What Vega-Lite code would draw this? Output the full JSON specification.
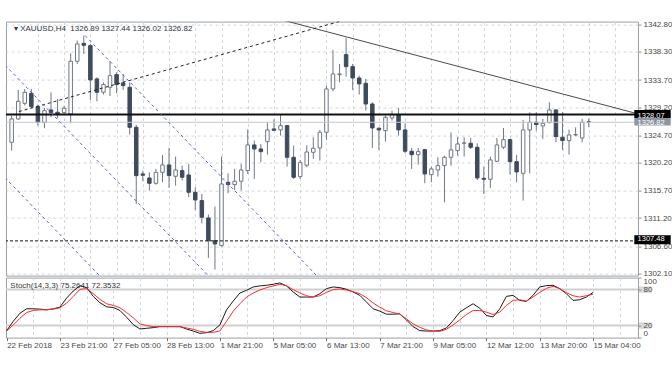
{
 "$schema": "https://vega.github.io/schema/vega-lite/v6.json",
 "background": "white",
 "padding": {"left": 4, "top": 19.6, "right": 0, "bottom": 0},
 "bounds": "flush",
 "spacing": 2,
 "config": {
  "view": {"stroke": "#9aa0a6", "strokeWidth": 1},
  "font": "Liberation Sans",
  "axis": {"labelFont": "Liberation Sans", "labelFontSize": 8, "labelColor": "#4a4a4a", "tickColor": "#8a9096", "labelOverlap": false}
 },
 "datasets": {
  "one": [{}],
  "candles": [
   {"i":0,"o":1323.56,"h":1327.90,"l":1322.20,"c":1327.36},
   {"i":1,"o":1327.36,"h":1332.09,"l":1327.20,"c":1330.24},
   {"i":2,"o":1329.91,"h":1332.25,"l":1329.53,"c":1331.71},
   {"i":3,"o":1331.54,"h":1332.25,"l":1329.15,"c":1329.37},
   {"i":4,"o":1329.37,"h":1329.70,"l":1326.27,"c":1326.82},
   {"i":5,"o":1326.82,"h":1329.15,"l":1325.84,"c":1328.72},
   {"i":6,"o":1328.83,"h":1331.71,"l":1327.63,"c":1328.39},
   {"i":7,"o":1328.45,"h":1330.62,"l":1327.52,"c":1328.17},
   {"i":8,"o":1328.39,"h":1329.53,"l":1328.17,"c":1329.10},
   {"i":9,"o":1328.17,"h":1338.06,"l":1326.65,"c":1336.76},
   {"i":10,"o":1336.76,"h":1340.13,"l":1336.33,"c":1339.59},
   {"i":11,"o":1339.69,"h":1340.94,"l":1337.96,"c":1339.37},
   {"i":12,"o":1339.31,"h":1339.59,"l":1330.46,"c":1333.72},
   {"i":13,"o":1333.88,"h":1334.15,"l":1330.24,"c":1331.71},
   {"i":14,"o":1331.71,"h":1333.34,"l":1331.33,"c":1332.96},
   {"i":15,"o":1332.52,"h":1336.76,"l":1331.11,"c":1334.42},
   {"i":16,"o":1334.59,"h":1334.97,"l":1331.54,"c":1332.96},
   {"i":17,"o":1333.23,"h":1334.70,"l":1332.09,"c":1332.79},
   {"i":18,"o":1332.52,"h":1333.34,"l":1324.81,"c":1326.00},
   {"i":19,"o":1326.00,"h":1326.38,"l":1313.50,"c":1318.12},
   {"i":20,"o":1318.39,"h":1318.94,"l":1317.20,"c":1318.18},
   {"i":21,"o":1317.74,"h":1318.66,"l":1315.68,"c":1316.87},
   {"i":22,"o":1316.87,"h":1319.21,"l":1316.65,"c":1318.66},
   {"i":23,"o":1318.66,"h":1321.49,"l":1317.03,"c":1319.86},
   {"i":24,"o":1319.86,"h":1322.63,"l":1316.11,"c":1318.12},
   {"i":25,"o":1318.01,"h":1321.22,"l":1316.49,"c":1319.04},
   {"i":26,"o":1318.94,"h":1319.75,"l":1317.31,"c":1317.85},
   {"i":27,"o":1318.23,"h":1320.02,"l":1314.59,"c":1315.40},
   {"i":28,"o":1315.40,"h":1316.22,"l":1312.52,"c":1314.15},
   {"i":29,"o":1314.05,"h":1315.13,"l":1310.35,"c":1311.33},
   {"i":30,"o":1311.22,"h":1311.76,"l":1304.70,"c":1307.52},
   {"i":31,"o":1307.52,"h":1313.07,"l":1302.80,"c":1306.98},
   {"i":32,"o":1306.71,"h":1321.22,"l":1306.55,"c":1316.76},
   {"i":33,"o":1317.03,"h":1318.50,"l":1315.24,"c":1316.65},
   {"i":34,"o":1316.65,"h":1319.21,"l":1315.78,"c":1317.20},
   {"i":35,"o":1317.20,"h":1320.02,"l":1315.68,"c":1319.04},
   {"i":36,"o":1318.94,"h":1325.67,"l":1318.39,"c":1323.12},
   {"i":37,"o":1323.12,"h":1323.83,"l":1317.58,"c":1322.47},
   {"i":38,"o":1322.47,"h":1323.28,"l":1320.30,"c":1322.03},
   {"i":39,"o":1323.66,"h":1326.76,"l":1321.54,"c":1325.57},
   {"i":40,"o":1325.73,"h":1327.31,"l":1325.46,"c":1325.51},
   {"i":41,"o":1325.57,"h":1328.01,"l":1324.64,"c":1326.27},
   {"i":42,"o":1326.27,"h":1326.38,"l":1319.59,"c":1321.11},
   {"i":43,"o":1321.11,"h":1323.01,"l":1317.58,"c":1317.85},
   {"i":44,"o":1317.96,"h":1320.68,"l":1317.58,"c":1320.24},
   {"i":45,"o":1319.81,"h":1323.07,"l":1319.48,"c":1321.98},
   {"i":46,"o":1321.92,"h":1324.37,"l":1320.84,"c":1322.58},
   {"i":47,"o":1322.63,"h":1325.57,"l":1320.57,"c":1325.19},
   {"i":48,"o":1325.19,"h":1332.79,"l":1323.94,"c":1332.25},
   {"i":49,"o":1332.25,"h":1338.61,"l":1331.87,"c":1334.70},
   {"i":50,"o":1334.59,"h":1336.33,"l":1333.34,"c":1334.70},
   {"i":51,"o":1337.85,"h":1340.56,"l":1334.26,"c":1335.89},
   {"i":52,"o":1335.89,"h":1336.33,"l":1332.09,"c":1334.04},
   {"i":53,"o":1334.04,"h":1334.42,"l":1331.33,"c":1333.07},
   {"i":54,"o":1333.17,"h":1333.88,"l":1328.72,"c":1329.80},
   {"i":55,"o":1329.80,"h":1330.08,"l":1322.63,"c":1325.89},
   {"i":56,"o":1325.84,"h":1326.00,"l":1322.31,"c":1325.57},
   {"i":57,"o":1325.46,"h":1327.90,"l":1323.66,"c":1327.63},
   {"i":58,"o":1327.52,"h":1328.72,"l":1327.09,"c":1328.07},
   {"i":59,"o":1328.07,"h":1329.15,"l":1324.64,"c":1325.57},
   {"i":60,"o":1325.57,"h":1326.65,"l":1321.76,"c":1322.09},
   {"i":61,"o":1322.09,"h":1322.63,"l":1319.21,"c":1321.54},
   {"i":62,"o":1321.54,"h":1322.63,"l":1319.91,"c":1322.03},
   {"i":63,"o":1322.36,"h":1322.47,"l":1316.87,"c":1318.39},
   {"i":64,"o":1318.28,"h":1319.59,"l":1317.03,"c":1319.21},
   {"i":65,"o":1319.04,"h":1321.11,"l":1317.96,"c":1319.75},
   {"i":66,"o":1319.75,"h":1321.38,"l":1313.77,"c":1321.11},
   {"i":67,"o":1321.11,"h":1325.19,"l":1319.75,"c":1322.31},
   {"i":68,"o":1322.20,"h":1324.37,"l":1321.38,"c":1323.28},
   {"i":69,"o":1323.39,"h":1324.37,"l":1321.22,"c":1323.45},
   {"i":70,"o":1323.39,"h":1324.26,"l":1322.47,"c":1322.74},
   {"i":71,"o":1322.74,"h":1323.39,"l":1317.41,"c":1317.74},
   {"i":72,"o":1317.69,"h":1319.59,"l":1315.13,"c":1317.52},
   {"i":73,"o":1317.52,"h":1321.22,"l":1316.11,"c":1320.68},
   {"i":74,"o":1320.46,"h":1324.26,"l":1320.30,"c":1323.12},
   {"i":75,"o":1322.74,"h":1325.89,"l":1322.47,"c":1323.99},
   {"i":76,"o":1323.99,"h":1324.10,"l":1318.28,"c":1320.40},
   {"i":77,"o":1320.40,"h":1321.49,"l":1317.03,"c":1318.72},
   {"i":78,"o":1318.50,"h":1327.20,"l":1314.05,"c":1325.57},
   {"i":79,"o":1325.57,"h":1328.45,"l":1318.50,"c":1326.82},
   {"i":80,"o":1326.82,"h":1328.45,"l":1325.46,"c":1326.44},
   {"i":81,"o":1326.22,"h":1327.36,"l":1324.10,"c":1326.65},
   {"i":82,"o":1326.76,"h":1330.08,"l":1326.65,"c":1328.83},
   {"i":83,"o":1328.83,"h":1328.94,"l":1323.56,"c":1324.48},
   {"i":84,"o":1324.37,"h":1328.45,"l":1322.31,"c":1323.83},
   {"i":85,"o":1323.83,"h":1325.62,"l":1321.54,"c":1324.75},
   {"i":86,"o":1324.75,"h":1326.00,"l":1324.53,"c":1324.81},
   {"i":87,"o":1324.26,"h":1327.36,"l":1323.56,"c":1326.82},
   {"i":88,"o":1326.89,"h":1327.44,"l":1326.02,"c":1326.82}
  ],
  "stoch": [
   {"i":0,"k":11.6,"d":10.9},{"i":1,"k":27.3,"d":21.1},{"i":2,"k":40.7,"d":32.3},{"i":3,"k":48.0,"d":41.8},
   {"i":4,"k":48.0,"d":45.2},{"i":5,"k":47.4,"d":46.3},{"i":6,"k":46.3,"d":46.3},{"i":7,"k":48.0,"d":47.4},
   {"i":8,"k":50.8,"d":49.7},{"i":9,"k":65.9,"d":57.5},{"i":10,"k":77.7,"d":68.7},{"i":11,"k":86.6,"d":80.5},
   {"i":12,"k":83.3,"d":81.6},{"i":13,"k":68.7,"d":73.2},{"i":14,"k":58.1,"d":63.7},{"i":15,"k":51.3,"d":56.4},
   {"i":16,"k":50.2,"d":53.6},{"i":17,"k":45.2,"d":49.7},{"i":18,"k":34.0,"d":41.8},{"i":19,"k":21.6,"d":32.9},
   {"i":20,"k":14.4,"d":22.8},{"i":21,"k":15.5,"d":20.0},{"i":22,"k":16.6,"d":18.3},{"i":23,"k":18.3,"d":18.3},
   {"i":24,"k":18.3,"d":18.3},{"i":25,"k":18.3,"d":18.3},{"i":26,"k":18.3,"d":18.3},{"i":27,"k":14.4,"d":16.0},
   {"i":28,"k":10.9,"d":13.8},{"i":29,"k":7.1,"d":10.4},{"i":30,"k":8.2,"d":8.8},{"i":31,"k":11.6,"d":8.8},
   {"i":32,"k":21.1,"d":11.0},{"i":33,"k":46.3,"d":27.3},{"i":34,"k":60.9,"d":44.1},{"i":35,"k":74.3,"d":56.4},
   {"i":36,"k":78.8,"d":67.6},{"i":37,"k":84.4,"d":74.3},{"i":38,"k":86.1,"d":79.3},{"i":39,"k":87.2,"d":83.3},
   {"i":40,"k":88.9,"d":86.1},{"i":41,"k":91.1,"d":88.9},{"i":42,"k":86.1,"d":86.6},{"i":43,"k":76.0,"d":79.9},
   {"i":44,"k":67.6,"d":74.3},{"i":45,"k":67.6,"d":69.8},{"i":46,"k":67.6,"d":67.6},{"i":47,"k":73.2,"d":69.8},
   {"i":48,"k":81.6,"d":75.4},{"i":49,"k":84.4,"d":79.9},{"i":50,"k":83.3,"d":81.0},{"i":51,"k":80.5,"d":79.3},
   {"i":52,"k":76.0,"d":76.5},{"i":53,"k":70.4,"d":73.2},{"i":54,"k":59.2,"d":66.5},{"i":55,"k":48.0,"d":57.5},
   {"i":56,"k":44.1,"d":50.8},{"i":57,"k":39.0,"d":44.6},{"i":58,"k":39.0,"d":41.8},{"i":59,"k":39.6,"d":39.0},
   {"i":60,"k":29.5,"d":31.2},{"i":61,"k":18.3,"d":22.8},{"i":62,"k":11.6,"d":17.2},{"i":63,"k":10.9,"d":12.7},
   {"i":64,"k":10.9,"d":11.0},{"i":65,"k":11.6,"d":10.4},{"i":66,"k":16.0,"d":13.8},{"i":67,"k":28.4,"d":21.1},
   {"i":68,"k":42.4,"d":29.5},{"i":69,"k":49.7,"d":38.5},{"i":70,"k":56.4,"d":45.2},{"i":71,"k":49.1,"d":45.2},
   {"i":72,"k":36.8,"d":42.4},{"i":73,"k":34.5,"d":38.5},{"i":74,"k":48.0,"d":42.4},{"i":75,"k":68.7,"d":53.6},
   {"i":76,"k":70.4,"d":62.0},{"i":77,"k":62.0,"d":63.1},{"i":78,"k":60.3,"d":60.9},{"i":79,"k":70.4,"d":67.6},
   {"i":80,"k":84.4,"d":75.4},{"i":81,"k":86.6,"d":82.1},{"i":82,"k":87.2,"d":85.5},{"i":83,"k":81.6,"d":81.6},
   {"i":84,"k":73.2,"d":74.9},{"i":85,"k":62.0,"d":69.8},{"i":86,"k":63.1,"d":67.6},{"i":87,"k":67.6,"d":69.8},
   {"i":88,"k":75.26,"d":72.35}
  ],
  "lines": [
   {"g":"down","i":40,"p":1343.86},{"g":"down","i":95,"p":1328.33},
   {"g":"rise","i":1.1,"p":1328.56},{"g":"rise","i":51,"p":1343.56},
   {"g":"ch1","i":11.19,"p":1340.95},{"g":"ch1","i":49,"p":1299.06},
   {"g":"ch2","i":-1,"p":1336.13},{"g":"ch2","i":33,"p":1298.46},
   {"g":"ch3","i":-1,"p":1317.77},{"g":"ch3","i":16,"p":1298.93}
  ]
 },
 "vconcat": [
  {
   "width": 632,
   "height": 254,
   "layer": [
    {
     "data": {"name": "candles"},
     "mark": {"type": "rule", "color": "#6e7782", "strokeWidth": 1},
     "encoding": {
      "x": {"field": "i", "type": "quantitative",
            "scale": {"domain": [-0.1, 94.75], "nice": false, "zero": false},
            "axis": {"values": [4,8,12,16,20,24,28,32,36,40,44,48,52,56,60,64,68,72,76,80,84,88,92],
                     "tickCount": 40,
                     "labels": false, "ticks": false, "domain": false, "title": null,
                     "grid": true, "gridColor": "#d3d7db", "gridDash": [3,3]}},
      "y": {"field": "l", "type": "quantitative",
            "scale": {"domain": [1301.82, 1343.23], "nice": false, "zero": false},
            "axis": {"orient": "right", "title": null, "domain": false,
                     "values": [1302.1,1306.6,1311.2,1315.7,1320.2,1324.7,1329.2,1333.7,1338.3,1342.8],
                     "tickCount": 20,
                     "format": ".2f", "tickSize": 3, "labelPadding": 2, "labelOverlap": false,
                     "grid": true, "gridColor": "#d3d7db", "gridDash": [3,3]}},
      "y2": {"field": "h"}
     }
    },
    {
     "data": {"name": "candles"},
     "mark": {"type": "bar", "size": 3.5, "strokeWidth": 1},
     "encoding": {
      "x": {"field": "i", "type": "quantitative"},
      "y": {"field": "o", "type": "quantitative"},
      "y2": {"field": "c"},
      "fill": {"condition": {"test": "datum.c >= datum.o", "value": "#ffffff"}, "value": "#3e4b5e"},
      "stroke": {"condition": {"test": "datum.c >= datum.o", "value": "#6e7782"}, "value": "#3e4b5e"}
     }
    },
    {
     "data": {"name": "one"},
     "mark": {"type": "rule", "color": "#c4c8cc", "strokeWidth": 1},
     "encoding": {"y": {"datum": 1326.82}}
    },
    {
     "data": {"name": "one"},
     "mark": {"type": "rule", "color": "#111111", "strokeWidth": 2},
     "encoding": {"y": {"datum": 1328.07}}
    },
    {
     "data": {"name": "one"},
     "mark": {"type": "rule", "color": "#111111", "strokeWidth": 1, "strokeDash": [3,2]},
     "encoding": {"y": {"datum": 1307.48}}
    },
    {
     "data": {"name": "lines"},
     "transform": [{"filter": "datum.g == 'down'"}],
     "mark": {"type": "line", "clip": true, "color": "#4a4a4a", "strokeWidth": 1},
     "encoding": {"x": {"field": "i", "type": "quantitative"}, "y": {"field": "p", "type": "quantitative"}}
    },
    {
     "data": {"name": "lines"},
     "transform": [{"filter": "datum.g == 'rise'"}],
     "mark": {"type": "line", "clip": true, "color": "#222222", "strokeWidth": 1, "strokeDash": [3,3]},
     "encoding": {"x": {"field": "i", "type": "quantitative"}, "y": {"field": "p", "type": "quantitative"}}
    },
    {
     "data": {"name": "lines"},
     "transform": [{"filter": "indexof(datum.g, 'ch') == 0"}],
     "mark": {"type": "line", "clip": true, "color": "#5c5cd6", "strokeWidth": 1, "strokeDash": [3,3]},
     "encoding": {"x": {"field": "i", "type": "quantitative"}, "y": {"field": "p", "type": "quantitative"}, "detail": {"field": "g"}}
    },
    {
     "data": {"name": "one"},
     "mark": {"type": "text", "align": "left", "baseline": "middle", "fontSize": 8, "color": "#2f3640", "font": "Liberation Sans"},
     "encoding": {"x": {"datum": 0.35}, "y": {"datum": 1342.04},
                  "text": {"value": "▾ XAUUSD,H4\u00a0\u00a01326.89 1327.44 1326.02 1326.82"}}
    },
    {
     "data": {"name": "one"},
     "mark": {"type": "rect", "color": "#000000"},
     "encoding": {"x": {"datum": 94.95}, "x2": {"datum": 100.5}, "y": {"datum": 1327.52}, "y2": {"datum": 1328.8}}
    },
    {
     "data": {"name": "one"},
     "mark": {"type": "rect", "color": "#8c97a3"},
     "encoding": {"x": {"datum": 94.95}, "x2": {"datum": 100.5}, "y": {"datum": 1326.3}, "y2": {"datum": 1327.52}}
    },
    {
     "data": {"name": "one"},
     "mark": {"type": "rect", "color": "#000000"},
     "encoding": {"x": {"datum": 94.95}, "x2": {"datum": 100.5}, "y": {"datum": 1306.95}, "y2": {"datum": 1308.4}}
    },
    {
     "data": {"name": "one"},
     "mark": {"type": "text", "align": "left", "baseline": "middle", "fontSize": 7.5, "color": "#ffffff", "font": "Liberation Sans"},
     "encoding": {"x": {"datum": 95.45}, "y": {"datum": 1327.9}, "text": {"value": "1328.07"}}
    },
    {
     "data": {"name": "one"},
     "mark": {"type": "text", "align": "left", "baseline": "middle", "fontSize": 7.5, "color": "#ffffff", "font": "Liberation Sans"},
     "encoding": {"x": {"datum": 95.45}, "y": {"datum": 1326.74}, "text": {"value": "1326.82"}}
    },
    {
     "data": {"name": "one"},
     "mark": {"type": "text", "align": "left", "baseline": "middle", "fontSize": 7.5, "color": "#ffffff", "font": "Liberation Sans"},
     "encoding": {"x": {"datum": 95.45}, "y": {"datum": 1307.75}, "text": {"value": "1307.48"}}
    }
   ]
  },
  {
   "width": 632,
   "height": 60,
   "layer": [
    {
     "data": {"name": "one"},
     "mark": {"type": "rule", "color": "#d0d0d0", "strokeWidth": 2},
     "encoding": {
      "x": {"datum": -0.1, "type": "quantitative",
            "scale": {"domain": [-0.1, 94.75], "nice": false, "zero": false},
            "axis": {"values": [0,4,8,12,16,20,24,28,32,36,40,44,48,52,56,60,64,68,72,76,80,84,88,92],
                     "tickCount": 40,
                     "labelExpr": "['22 Feb 2018','','23 Feb 21:00','','27 Feb 05:00','','28 Feb 13:00','','1 Mar 21:00','','5 Mar 05:00','','6 Mar 13:00','','7 Mar 21:00','','9 Mar 05:00','','12 Mar 12:00','','13 Mar 20:00','','15 Mar 04:00',''][datum.value / 4]",
                     "labelAlign": "left", "labelBaseline": "top", "labelPadding": 1, "labelOverlap": false,
                     "tickSize": 3, "tickColor": "#707070",
                     "tickOpacity": {"condition": {"test": "datum.value % 8 == 0 && datum.value <= 88", "value": 1}, "value": 0},
                     "domain": false, "title": null,
                     "grid": true, "gridColor": "#d3d7db", "gridDash": [3,3],
                     "gridOpacity": {"condition": {"test": "datum.value == 0", "value": 0}, "value": 1}}},
      "x2": {"datum": 94.75},
      "y": {"datum": 80, "type": "quantitative",
            "scale": {"domain": [0, 100], "nice": false, "zero": false},
            "axis": {"orient": "right", "title": null, "domain": false, "grid": false,
                     "values": [0, 20, 80, 100], "tickCount": 10, "tickSize": 3, "labelPadding": 2, "labelOverlap": false,
                     "labelBaseline": {"condition": [{"test": "datum.value == 100", "value": "top"}, {"test": "datum.value == 0", "value": "bottom"}], "value": "middle"},
                     "zindex": 1}}
     }
    },
    {
     "data": {"name": "one"},
     "mark": {"type": "rule", "color": "#d0d0d0", "strokeWidth": 2},
     "encoding": {"x": {"datum": -0.1}, "x2": {"datum": 94.75}, "y": {"datum": 20}}
    },
    {
     "data": {"name": "one"},
     "mark": {"type": "rect", "color": "#dcdcdc", "stroke": "#b8b8b8", "strokeWidth": 0.5},
     "encoding": {"x": {"datum": 94.95}, "x2": {"datum": 96.7}, "y": {"datum": 75.5}, "y2": {"datum": 84.5}}
    },
    {
     "data": {"name": "one"},
     "mark": {"type": "rect", "color": "#dcdcdc", "stroke": "#b8b8b8", "strokeWidth": 0.5},
     "encoding": {"x": {"datum": 94.95}, "x2": {"datum": 96.7}, "y": {"datum": 15.5}, "y2": {"datum": 24.5}}
    },
    {
     "data": {"name": "one"},
     "mark": {"type": "text", "align": "left", "baseline": "middle", "fontSize": 8, "color": "#3a3a3a", "font": "Liberation Sans"},
     "encoding": {"x": {"datum": 0.55}, "y": {"datum": 86.7}, "text": {"value": "Stoch(14,3,3) 75.2641 72.3532"}}
    },
    {
     "data": {"name": "stoch"},
     "mark": {"type": "line", "color": "#1a1a1a", "strokeWidth": 1},
     "encoding": {"x": {"field": "i", "type": "quantitative"}, "y": {"field": "k", "type": "quantitative"}}
    },
    {
     "data": {"name": "stoch"},
     "mark": {"type": "line", "color": "#ff2a2a", "strokeWidth": 1},
     "encoding": {"x": {"field": "i", "type": "quantitative"}, "y": {"field": "d", "type": "quantitative"}}
    }
   ]
  }
 ]
}
